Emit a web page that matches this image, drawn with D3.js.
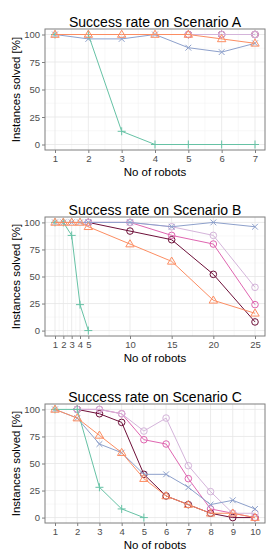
<!DOCTYPE html>
<html>
<head>
<meta charset="utf-8">
<script src="https://cdn.jsdelivr.net/npm/d3@7"></script>
<style>
    body { margin: 0; background: #fff; }
    svg { display: block; font-family: "Liberation Sans", Arial, sans-serif; }
</style>
</head>
<body>
<svg id="chart" width="280" height="560"></svg>
<script>
// robots per scenario
const robotsA = [1, 2, 3, 4, 5, 6, 7]
const robotsB = [1, 2, 3, 4, 5, 10, 15, 20, 25]
const robotsC = [1, 2, 3, 4, 5, 6, 7, 8, 9, 10]

const yTicks = [0, 25, 50, 75, 100]

// success rate [%], one array per method and scenario (null = not run)
const maroonA  = [null, null, null, null, 100, 100, 100]
const magentaA = [null, null, null, null, 100, 100, 100]
const lilacA   = [null, null, null, null, 100, 100, 100]
const crossA   = [100, 96, 96, 100, 88, 84, 92]
const plusA    = [100, 100, 12, 0, 0, 0, 0]
const triA     = [100, 100, 100, 100, 100, 96, 92]

const maroonB  = [null, null, null, null, 100, 92, 84, 52, 8]
const magentaB = [null, null, null, null, 100, 100, 88, 80, 24]
const lilacB   = [null, null, null, null, 100, 100, 96, 88, 40]
const crossB   = [100, 100, 100, 100, 100, 100, 96, 100, 96]
const plusB    = [100, 100, 88, 24, 0]
const triB     = [100, 100, 100, 100, 96, 80, 64, 28, 16]

const maroonC  = [null, 100, 96, 88, 40, 20, 12, 4, 0, 0]
const magentaC = [null, 100, 100, 96, 72, 68, 36, 8, 4, 0]
const lilacC   = [null, 100, 100, 96, 80, 92, 48, 24, 4, 4]
const crossC   = [100, 92, 68, 60, 40, 40, 28, 12, 16, 8]
const plusC    = [100, 100, 28, 8, 0]
const triC     = [100, 92, 76, 60, 36, 20, 12, 4, 4, 0]

// drawing order: first is at the bottom
const methods = [
    {key: 'maroon',  color: '#6d0f38', shape: 'circle'},
    {key: 'magenta', color: '#df65b0', shape: 'circle'},
    {key: 'lilac',   color: '#d4b4da', shape: 'circle'},
    {key: 'cross',   color: '#8da0cb', shape: 'cross'},
    {key: 'plus',    color: '#66c2a5', shape: 'plus'},
    {key: 'tri',     color: '#fc8d62', shape: 'triangle'}
]

const panels = [
    {title: 'Success rate on Scenario A', x: robotsA, minor: [1.5, 2.5, 3.5, 4.5, 5.5, 6.5], top: 29, bottom: 150,
     series: {maroon: maroonA, magenta: magentaA, lilac: lilacA, cross: crossA, plus: plusA, tri: triA}},
    {title: 'Success rate on Scenario B', x: robotsB, minor: [1.5, 2.5, 3.5, 4.5, 7.5, 12.5, 17.5, 22.5], top: 217, bottom: 336,
     series: {maroon: maroonB, magenta: magentaB, lilac: lilacB, cross: crossB, plus: plusB, tri: triB}},
    {title: 'Success rate on Scenario C', x: robotsC, minor: [1.5, 2.5, 3.5, 4.5, 5.5, 6.5, 7.5, 8.5, 9.5], top: 404, bottom: 523,
     series: {maroon: maroonC, magenta: magentaC, lilac: lilacC, cross: crossC, plus: plusC, tri: triC}}
]

const left = 45, right = 265
const svg = d3.select('#chart')

function shapePath(shape) {
    if (shape === 'triangle') return 'M0,-4.3L4.2,2.8L-4.2,2.8Z'
    if (shape === 'cross') return 'M-2.9,-2.9L2.9,2.9M-2.9,2.9L2.9,-2.9'
    if (shape === 'plus') return 'M-4,0H4M0,-4V4'
    return d3.arc()({innerRadius: 0, outerRadius: 3.3, startAngle: 0, endAngle: 2 * Math.PI})
}

function drawPanel(p) {
    const xMin = d3.min(p.x), xMax = d3.max(p.x)
    const pad = (xMax - xMin) * .05
    const x = d3.scaleLinear().domain([xMin - pad, xMax + pad]).range([left, right])
    const y = d3.scaleLinear().domain([-5, 105]).range([p.bottom, p.top])

    const g = svg.append('g')

    // grid
    g.selectAll('.yminor').data([12.5, 37.5, 62.5, 87.5]).enter().append('line')
        .attr('x1', left).attr('x2', right)
        .attr('y1', d => y(d)).attr('y2', d => y(d))
        .attr('stroke', '#f4f4f4').attr('stroke-width', .6)
    g.selectAll('.xminor').data(p.minor).enter().append('line')
        .attr('x1', d => x(d)).attr('x2', d => x(d))
        .attr('y1', p.top).attr('y2', p.bottom)
        .attr('stroke', '#f4f4f4').attr('stroke-width', .6)
    g.selectAll('.ymajor').data(yTicks).enter().append('line')
        .attr('x1', left).attr('x2', right)
        .attr('y1', d => y(d)).attr('y2', d => y(d))
        .attr('stroke', '#e6e6e6').attr('stroke-width', .8)
    g.selectAll('.xmajor').data(p.x).enter().append('line')
        .attr('x1', d => x(d)).attr('x2', d => x(d))
        .attr('y1', p.top).attr('y2', p.bottom)
        .attr('stroke', '#e6e6e6').attr('stroke-width', .8)

    // series
    methods.forEach(m => {
        const vals = p.series[m.key]
        const pts = vals.map((v, i) => [p.x[i], v]).filter(d => d[1] != null)
        g.append('path')
            .attr('d', d3.line().x(d => x(d[0])).y(d => y(d[1]))(pts))
            .attr('fill', 'none').attr('stroke', m.color).attr('stroke-width', 1)
        g.selectAll(null).data(pts).enter().append('path')
            .attr('transform', d => `translate(${x(d[0])},${y(d[1])})`)
            .attr('d', shapePath(m.shape))
            .attr('fill', 'none').attr('stroke', m.color).attr('stroke-width', 1)
    })

    // border
    g.append('rect')
        .attr('x', left).attr('y', p.top)
        .attr('width', right - left).attr('height', p.bottom - p.top)
        .attr('fill', 'none').attr('stroke', '#7f7f7f').attr('stroke-width', 1)

    // axes
    const xAxis = g.append('g').attr('transform', `translate(0,${p.bottom})`)
        .call(d3.axisBottom(x).tickValues(p.x).tickFormat(d3.format('d')).tickSize(3).tickPadding(2))
    const yAxis = g.append('g').attr('transform', `translate(${left},0)`)
        .call(d3.axisLeft(y).tickValues(yTicks).tickSize(3).tickPadding(2))
    ;[xAxis, yAxis].forEach(a => {
        a.select('.domain').remove()
        a.selectAll('line').attr('stroke', '#7f7f7f')
        a.selectAll('text').attr('fill', '#4d4d4d').style('font-size', '9.5px')
            .style('font-family', '"Liberation Sans", Arial, sans-serif')
    })

    g.append('text')
        .attr('x', (left + right) / 2).attr('y', p.top - 2.5)
        .attr('text-anchor', 'middle').style('font-size', '14px')
        .text(p.title)
    g.append('text')
        .attr('x', (left + right) / 2).attr('y', p.bottom + 26)
        .attr('text-anchor', 'middle').style('font-size', '11.5px')
        .text('No of robots')
    g.append('text')
        .attr('transform', `translate(19.5,${(p.top + p.bottom) / 2}) rotate(-90)`)
        .attr('text-anchor', 'middle').style('font-size', '11.5px')
        .text('Instances solved [%]')
}

panels.forEach(drawPanel)
</script>
</body>
</html>
